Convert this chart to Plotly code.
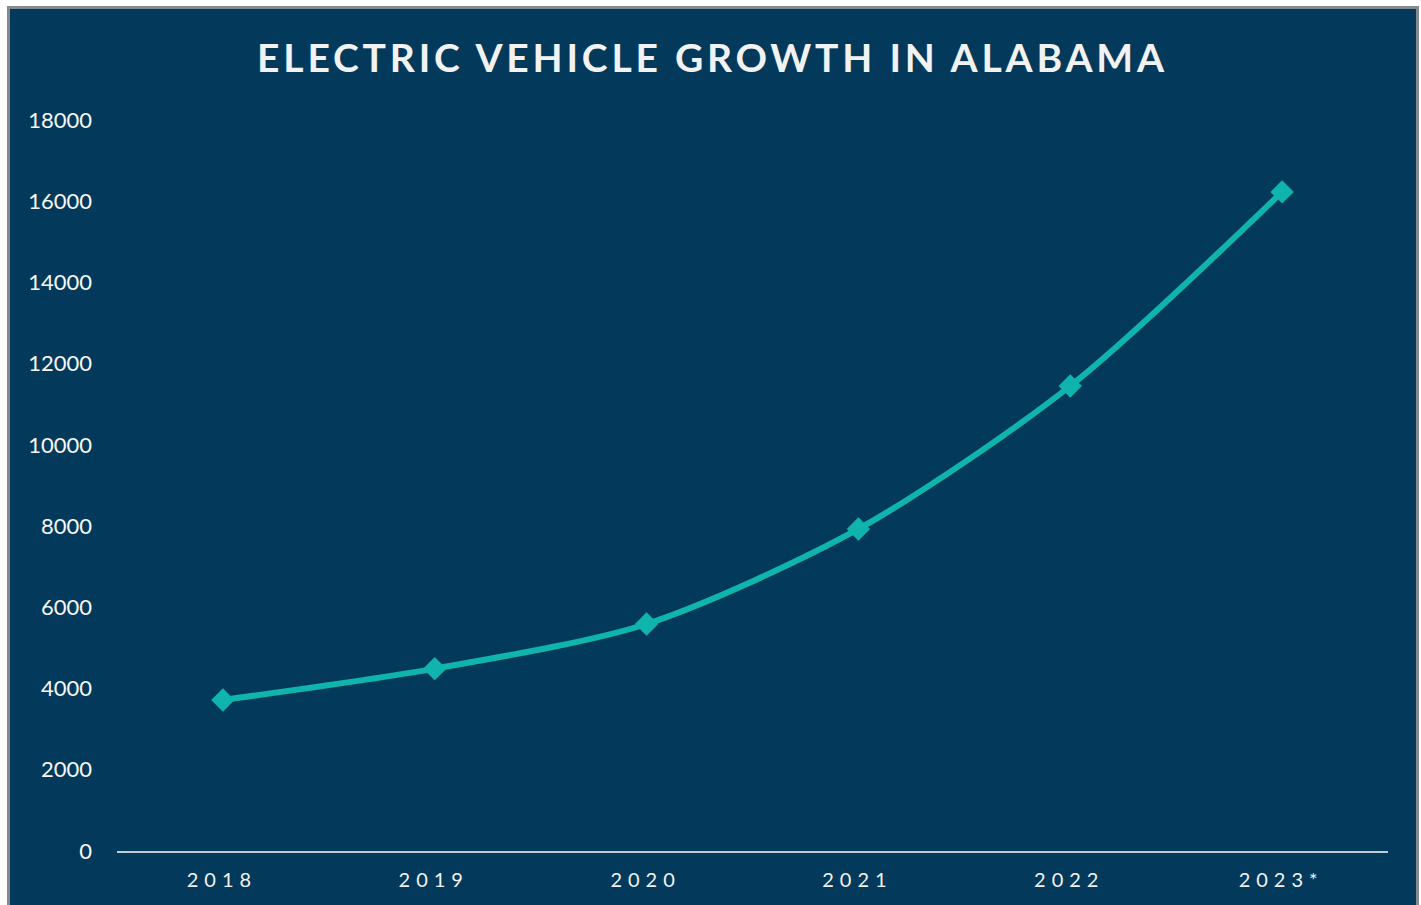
import plotly.graph_objects as go

years = ["2018", "2019", "2020", "2021", "2022", "2023*"]
ev_counts = [3720, 4490, 5590, 7930, 11450, 16230]
y_ticks = [0, 2000, 4000, 6000, 8000, 10000, 12000, 14000, 16000, 18000]

W, H = 1421, 905
L, R, T, B = 117, 33, 120, 54
pw, ph = W - L - R, H - T - B

def px_x(p):
    return (p - L) / pw

def px_y(p):
    return (H - B - p) / ph

navy = "#033A5B"
teal = "#0FB5AC"

fig = go.Figure()
fig.add_trace(go.Scatter(
    x=years, y=ev_counts, mode="lines+markers",
    line=dict(color=teal, width=6, shape="spline", smoothing=0.8),
    marker=dict(symbol="diamond", size=18, color=teal),
    hoverinfo="x+y", showlegend=False,
))

fig.update_layout(
    width=W, height=H,
    margin=dict(l=L, r=R, t=T, b=B),
    paper_bgcolor="white",
    plot_bgcolor="rgba(0,0,0,0)",
    title=dict(text="<b>ELECTRIC VEHICLE GROWTH IN ALABAMA</b>",
               x=0.5, xref="container", xanchor="center",
               y=1 - 58 / H, yref="container", yanchor="middle",
               font=dict(family="Lato", size=39, color="#F2F2F2")),
    xaxis=dict(type="category", range=[-0.5, 5.5], showgrid=False, zeroline=False,
               showline=True, linecolor="#C3CBD2", linewidth=2,
               ticks="", ticklabelstandoff=10,
               tickfont=dict(family="Lato", size=20, color="#F2F2F2")),
    yaxis=dict(range=[0, 18000], tickvals=y_ticks, tickformat="d",
               showgrid=False, zeroline=False,
               showline=False, ticks="", ticklabelstandoff=24,
               tickfont=dict(family="Lato", size=22, color="#F7F7F7")),
    shapes=[dict(type="rect", xref="paper", yref="paper", layer="below",
                 x0=px_x(8.5), x1=px_x(1417.5), y0=px_y(920), y1=px_y(7.5),
                 fillcolor=navy, line=dict(color="#858A8F", width=3))],
)

post = """
var gd = document.getElementById('{plot_id}');
gd.querySelectorAll('.gtitle').forEach(function(t){ t.style.letterSpacing='3.8px'; t.setAttribute('dx','2'); });
gd.querySelectorAll('.xtick text').forEach(function(t){ t.style.letterSpacing='6px'; t.setAttribute('dx','-1'); });
"""

fig.write_html("out.html", post_script=post, config={"responsive": False})
